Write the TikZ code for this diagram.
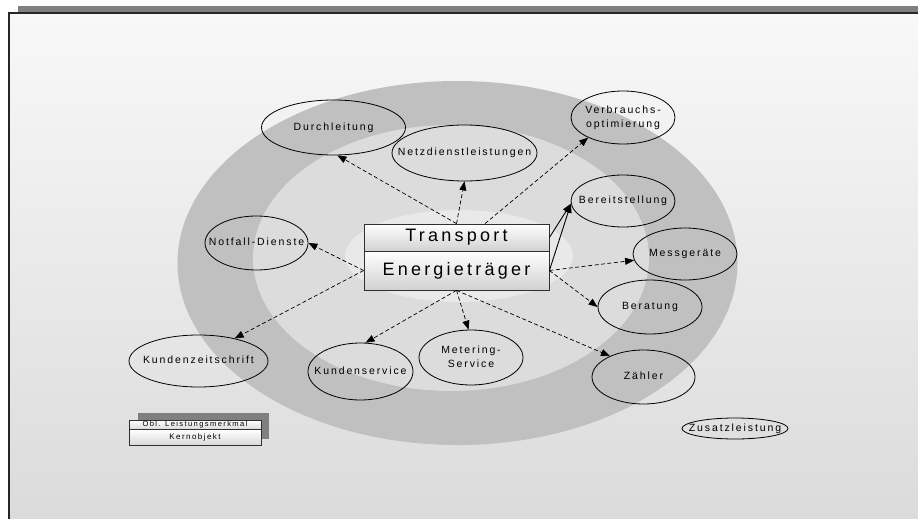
\documentclass[tikz,border=0pt]{standalone}
\usepackage{fontspec}
\setmainfont[LetterSpace=18]{Liberation Sans}
\usetikzlibrary{shapes.geometric,arrows.meta}

\definecolor{panelTop}{HTML}{F8F8F8}
\definecolor{panelBot}{HTML}{DBDBDB}
\definecolor{barGray}{HTML}{808080}
\definecolor{ringOuter}{HTML}{C0C0C0}
\definecolor{ringMid}{HTML}{DCDCDC}
\definecolor{ringInner}{HTML}{E9E9E9}
\definecolor{boxLine}{HTML}{303030}

% label of zero width, so the ellipse keeps its given size
\newcommand{\svctext}[1]{\makebox[0pt][c]{\begin{tabular}{@{}c@{}}#1\end{tabular}}}

\begin{document}
\begin{tikzpicture}[x=1pt,y=-1pt,
  service/.style={ellipse, draw=black, line width=0.8pt, inner sep=0pt,
    text=black, font=\fontsize{10.5}{14}\selectfont},
  cellbox/.style={rectangle, draw=boxLine, line width=0.8pt, inner sep=0pt,
    top color=white, bottom color=black!18, text=black,
    font=\fontsize{18}{20}\selectfont},
  legendbox/.style={rectangle, draw=boxLine, line width=0.8pt, inner sep=0pt,
    top color=white, bottom color=black!15, text=black,
    minimum width=132pt},
  link/.style={dash pattern=on 4pt off 2.5pt, line width=0.7pt,
    -{Triangle[length=9pt,width=7pt]}},
  solidlink/.style={line width=0.9pt, -{Triangle[length=9pt,width=7pt]}}]

\useasboundingbox (0,0) rectangle (918,519);

% slide frame
\fill[white] (0,0) rectangle (918,519);
\fill[barGray] (18,6) rectangle (918,13);
\shade[top color=panelTop, bottom color=panelBot] (9,13) rectangle (918,519);
\draw[line width=1.5pt, black!85] (9,519) -- (9,13) -- (918,13);

% concentric rings
\fill[ringOuter] (457.5,263) ellipse [x radius=280, y radius=182];
\fill[ringMid] (451,258) ellipse [x radius=198, y radius=133];
\fill[ringInner] (459,256) ellipse [x radius=114, y radius=46];

% core object
\node[cellbox, minimum width=185pt, minimum height=27pt] (tr) at (456.5,237.5) {Transport};
\node[cellbox, minimum width=185pt, minimum height=39pt] (et) at (456.5,270.5) {Energieträger};

% services
\node[service, minimum width=144pt, minimum height=55pt] (dl) at (333.5,127.5) {\svctext{Durchleitung}};
\node[service, minimum width=145pt, minimum height=56pt] (nd) at (464.5,153) {\svctext{Netzdienstleistungen}};
\node[service, minimum width=104pt, minimum height=53pt] (vo) at (623,117.5) {\svctext{Verbrauchs-\\optimierung}};
\node[service, minimum width=104pt, minimum height=52pt] (bs) at (623,201) {\svctext{Bereitstellung}};
\node[service, minimum width=104pt, minimum height=52pt] (mg) at (685,254) {\svctext{Messgeräte}};
\node[service, minimum width=104pt, minimum height=54pt] (br) at (650,307) {\svctext{Beratung}};
\node[service, minimum width=103pt, minimum height=54pt] (zl) at (643.5,377) {\svctext{Zähler}};
\node[service, minimum width=104pt, minimum height=55pt] (ms) at (471,357.5) {\svctext{Metering-\\Service}};
\node[service, minimum width=105pt, minimum height=57pt] (ks) at (360.5,371.5) {\svctext{Kundenservice}};
\node[service, minimum width=139pt, minimum height=52pt] (kz) at (198.5,361) {\svctext{Kundenzeitschrift}};
\node[service, minimum width=103pt, minimum height=54pt] (nf) at (256.5,243) {\svctext{Notfall-Dienste}};
\node[service, minimum width=106pt, minimum height=21pt] (zs) at (735,428.5) {\svctext{Zusatzleistung}};

% start points on the core object
\coordinate (trR) at ([xshift=28.5pt]tr.north);

% connectors
\draw[link] (tr.north) -- (dl.-82);
\draw[link] (tr.north) -- (nd.south);
\draw[link] (trR) -- (vo.-150);
\draw[solidlink] (tr.east) -- (bs.183);
\draw[solidlink] (et.east) -- (bs.183);
\draw[link] (et.east) -- (mg.187);
\draw[link] (et.east) -- (br.west);
\draw[link] (et.south) -- (zl.148);
\draw[link] (et.south) -- (ms.95);
\draw[link] (et.south) -- (ks.80);
\draw[link] (et.west) -- (kz.32);
\draw[link] (et.west) -- (nf.east);

% legend
\fill[barGray] (138,413) rectangle (269,439);
\node[legendbox, minimum height=9.5pt, font=\fontsize{7.6}{8}\selectfont] (obl) at (195,424.75) {Obl. Leistungsmerkmal};
\node[legendbox, minimum height=15.5pt, font=\fontsize{8}{9}\selectfont] (kern) at (195,437.25) {Kernobjekt};

\end{tikzpicture}
\end{document}
